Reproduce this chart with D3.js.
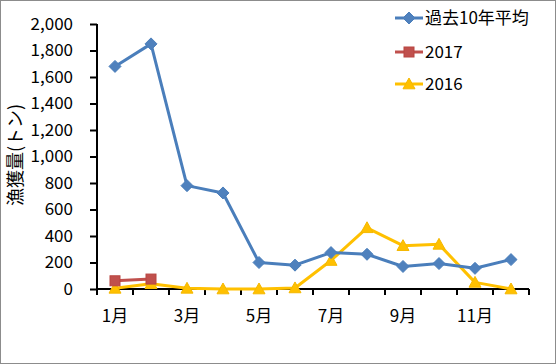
<!DOCTYPE html>
<html><head><meta charset="utf-8">
<script src="https://cdn.jsdelivr.net/npm/d3@7/dist/d3.min.js"></script>
<style>
html,body{margin:0;padding:0;background:#fff;}
svg{display:block;}
text{font-family:"Noto Sans CJK JP","Noto Sans",sans-serif;fill:#000;}
</style></head>
<body><svg id="c" width="556" height="364"></svg>
<script>
const months = ["1月","2月","3月","4月","5月","6月","7月","8月","9月","10月","11月","12月"];
const shownMonthLabels = ["1月","3月","5月","7月","9月","11月"];
const yTicks = [0,200,400,600,800,1000,1200,1400,1600,1800,2000];
const avg10 = [1680,1850,780,725,200,180,275,262,170,192,156,222];
const y2017 = [62,75,null,null,null,null,null,null,null,null,null,null];
const y2016 = [5,40,5,0,0,8,215,462,327,337,50,0];
const seriesNames = ["過去10年平均","2017","2016"];
const yTitle = "漁獲量(トン)";

const svg = d3.select("#c");
svg.append("rect").attr("x",0.5).attr("y",0.5).attr("width",555).attr("height",363)
  .attr("fill","#fff").attr("stroke","#8c8c8c").attr("stroke-width",1);

const L=97, R=529, T=24, B=289;
const x = d3.scaleBand().domain(months).range([L,R]);
const y = d3.scaleLinear().domain([0,2000]).range([B,T]);

// Y axis
const yAxis = d3.axisLeft(y).tickValues(yTicks).tickSize(7).tickPadding(17)
  .tickFormat(d3.format(","));
const gy = svg.append("g").attr("transform",`translate(${L},0)`).call(yAxis);
gy.selectAll("path,line").attr("stroke","#000").attr("stroke-width",2);
gy.select(".domain").attr("d",`M0,${T}V${B}`);
gy.selectAll("text").attr("font-size",17).attr("font-family","'Noto Sans CJK JP',sans-serif").attr("fill","#000");

// X axis with ticks at category boundaries
const gx = svg.append("g").attr("transform",`translate(0,${B})`);
gx.append("line").attr("x1",L).attr("x2",R).attr("stroke","#000").attr("stroke-width",2);
const bounds = months.map(m=>x(m)).concat([R]);
gx.selectAll("line.t").data(bounds).enter().append("line").attr("class","t")
  .attr("x1",d=>d).attr("x2",d=>d).attr("y1",0).attr("y2",6).attr("stroke","#000").attr("stroke-width",2);
gx.selectAll("text").data(shownMonthLabels).enter().append("text")
  .attr("x",d=>x(d)+x.bandwidth()/2).attr("y",33).attr("text-anchor","middle")
  .attr("font-size",17).text(d=>d);

// Y title
svg.append("text").attr("transform","translate(22,155) rotate(-90)")
  .attr("text-anchor","middle").attr("font-size",18).text(yTitle);

const cx = i => x(months[i]) + x.bandwidth()/2;
const line = d3.line().defined(d=>d!=null).x((d,i)=>cx(i)).y(d=>y(d));

const colors = {avg:"#4A7EBB", avgM:"#4F81BD", r:"#C0504D", rS:"#B84541", yel:"#FFC000"};

function diamond(g, px, py, s, fill, stroke){
  g.append("path").attr("d",`M${px},${py-s}L${px+s},${py}L${px},${py+s}L${px-s},${py}Z`)
    .attr("fill",fill).attr("stroke",stroke).attr("stroke-width",1);
}
function square(g, px, py, s, fill, stroke){
  g.append("rect").attr("x",px-s).attr("y",py-s).attr("width",2*s).attr("height",2*s)
    .attr("fill",fill).attr("stroke",stroke).attr("stroke-width",1);
}
function tri(g, px, py, s, fill, stroke){
  g.append("path").attr("d",`M${px},${py-s}L${px+s},${py+s*0.8}L${px-s},${py+s*0.8}Z`)
    .attr("fill",fill).attr("stroke",stroke).attr("stroke-width",1);
}

// 2016
const g16 = svg.append("g");
g16.append("path").datum(y2016).attr("d",line).attr("fill","none").attr("stroke",colors.yel).attr("stroke-width",3).attr("stroke-linejoin","round");
y2016.forEach((v,i)=>{ if(v!=null) tri(g16,cx(i),y(v),6,colors.yel,"#F5B800"); });
// 2017
const g17 = svg.append("g");
g17.append("path").datum(y2017).attr("d",line).attr("fill","none").attr("stroke",colors.r).attr("stroke-width",3);
y2017.forEach((v,i)=>{ if(v!=null) square(g17,cx(i),y(v),5,colors.r,colors.rS); });
// avg
const ga = svg.append("g");
ga.append("path").datum(avg10).attr("d",line).attr("fill","none").attr("stroke",colors.avg).attr("stroke-width",3).attr("stroke-linejoin","round");
avg10.forEach((v,i)=>{ if(v!=null) diamond(ga,cx(i),y(v),6,colors.avgM,colors.avg); });

// Legend
const lg = svg.append("g");
const ly = [18,52,84];
const drawers = [
  (g,px,py)=>diamond(g,px,py,6,colors.avgM,colors.avg),
  (g,px,py)=>square(g,px,py,5,colors.r,colors.rS),
  (g,px,py)=>tri(g,px,py,6,colors.yel,"#F5B800")
];
const lcol = [colors.avg, colors.r, colors.yel];
seriesNames.forEach((n,i)=>{
  lg.append("line").attr("x1",395).attr("x2",423).attr("y1",ly[i]).attr("y2",ly[i])
    .attr("stroke",lcol[i]).attr("stroke-width",3);
  drawers[i](lg,409,ly[i]);
  lg.append("text").attr("x",425).attr("y",ly[i]).attr("dy","0.35em").attr("font-size",17).text(n);
});
</script></body></html>
